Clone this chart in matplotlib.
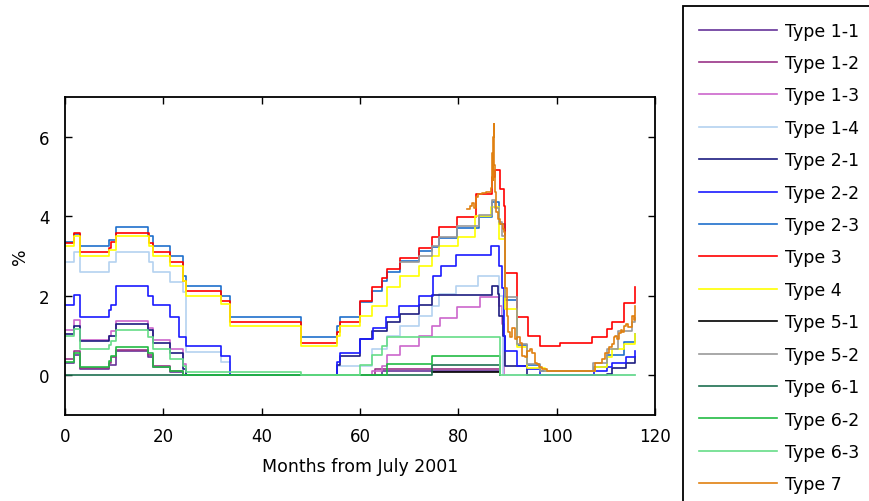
import matplotlib
matplotlib.use('Agg')
import matplotlib.pyplot as plt

# step series, months from July 2001 (change points) and percent levels
type1_1_x = [0, 1.9, 3.1, 8.9, 10.3, 16.9, 17.8, 21.3, 24.1, 64.4, 88.5]
type1_1_y = [0.3, 0.5, 0.15, 0.25, 0.6, 0.45, 0.2, 0.08, 0, 0.11, 0]

type1_2_x = [0, 1.9, 3.1, 8.9, 9.4, 10.3, 16.9, 17.8, 21.3, 24.1, 63.0, 88.5]
type1_2_y = [0.4, 0.62, 0.17, 0.3, 0.45, 0.64, 0.5, 0.24, 0.11, 0, 0.15, 0]

type1_3_x = [0, 1.9, 3.1, 8.9, 9.4, 10.3, 16.9, 17.8, 21.3, 24.1, 24.7, 62.4, 64.4, 65.4,
             68.1, 71.9, 74.6, 76.2, 79.7, 84.4, 88.3, 88.8, 89.2]
type1_3_y = [1.14, 1.39, 0.89, 1.0, 1.12, 1.37, 1.2, 0.89, 0.66, 0.28, 0, 0.11, 0.24, 0.5,
             0.74, 0.99, 1.24, 1.45, 1.72, 1.98, 1.75, 1.3, 0]

type1_4_x = [0, 1.9, 3.1, 8.9, 10.3, 17.0, 17.8, 21.3, 24.1, 24.7, 31.7, 33.6, 55.4, 62.4,
             65.4, 68.1, 71.9, 74.6, 76.1, 79.6, 83.9, 88.3, 89.0, 116]
type1_4_y = [2.84, 3.09, 2.6, 2.84, 3.09, 2.84, 2.6, 2.35, 2.1, 0.59, 0.34, 0, 0.24, 0.66,
             0.99, 1.23, 1.48, 1.75, 2.04, 2.25, 2.5, 2.0, 0, 0]

type2_1_x = [0, 1.9, 3.1, 8.9, 10.3, 16.9, 17.8, 21.3, 24.1, 24.7, 55.4, 56, 60, 62.4,
             65.4, 68.1, 71.9, 74.6, 86.8, 88.0, 88.3, 89.0, 89.5, 94, 110.2, 111.2, 114, 116]
type2_1_y = [1.05, 1.25, 0.85, 1.0, 1.29, 1.14, 0.81, 0.57, 0.15, 0, 0.26, 0.49, 0.91, 1.12,
             1.33, 1.54, 1.76, 2.02, 2.25, 2.04, 1.5, 0.99, 0.24, 0, 0.04, 0.19, 0.3, 0.45]

type2_2_x = [0, 1.9, 3.1, 8.9, 9.4, 10.3, 16.9, 17.8, 21.3, 23.2, 24.7, 31.7, 33.6, 55.4,
             56, 60, 62.6, 65.3, 68, 71.9, 74.8, 76.4, 79.6, 86.7, 88.3, 88.9, 89.2, 89.5,
             92, 94, 96.6, 107.5, 110.3, 111.2, 114, 116]
type2_2_y = [1.77, 2.02, 1.47, 1.64, 1.77, 2.25, 2.0, 1.76, 1.47, 0.97, 0.74, 0.49, 0, 0.34,
             0.57, 0.91, 1.18, 1.47, 1.75, 2.0, 2.5, 2.76, 3.02, 3.24, 2.76, 2.2, 1.0, 0.61,
             0.24, 0.16, 0, 0.11, 0.2, 0.32, 0.47, 0.61]

type2_3_x = [0, 1.9, 3.1, 8.9, 10.3, 16.9, 17.8, 21.3, 24.1, 24.7, 31.7, 33.6, 48.1, 55.4,
             56, 60, 62.4, 64.4, 65.4, 68.1, 71.9, 74.6, 76.1, 79.7, 84.3, 86.8, 88.2, 89.5,
             92, 94, 96.6, 107.5, 110.2, 113.6, 116]
type2_3_y = [3.35, 3.55, 3.26, 3.39, 3.74, 3.51, 3.26, 3.01, 2.5, 2.25, 2.0, 1.47, 0.97, 1.23,
             1.47, 1.85, 2.13, 2.38, 2.6, 2.88, 3.12, 3.22, 3.45, 3.71, 3.98, 4.36, 3.8, 1.9,
             0.75, 0.25, 0.11, 0.2, 0.5, 0.84, 1.03]

type3_x = [0, 1.9, 3.1, 8.9, 9.4, 10.3, 17.1, 17.8, 21.3, 24.1, 24.7, 31.7, 33.6, 48.1,
           55.4, 56, 60, 62.4, 64.4, 65.4, 68.1, 71.9, 74.6, 76.1, 79.7, 83.6, 86.8, 87.5,
           88.5, 89.2, 89.5, 92, 94.1, 96.6, 100.6, 107.2, 110.2, 111.2, 113.6, 116]
type3_y = [3.33, 3.58, 3.09, 3.2, 3.35, 3.58, 3.33, 3.09, 2.84, 2.38, 2.13, 1.87, 1.33, 0.82,
           1.08, 1.33, 1.87, 2.21, 2.44, 2.67, 2.94, 3.2, 3.47, 3.72, 3.99, 4.56, 4.99, 5.17,
           4.69, 4.27, 2.56, 1.47, 0.99, 0.74, 0.82, 0.95, 1.16, 1.33, 1.81, 2.21]

type4_x = [0, 1.9, 3.1, 8.9, 10.3, 17.1, 17.8, 21.3, 24.1, 24.7, 31.7, 33.6, 48.1, 55.4,
           56, 60, 62.4, 65.4, 68.1, 71.9, 74.6, 76.1, 80, 83.4, 86.7, 88.3, 89.5, 92, 94,
           97.6, 107.8, 110.2, 111.2, 113.6, 116]
type4_y = [3.26, 3.51, 3.01, 3.15, 3.51, 3.26, 3.01, 2.76, 2.38, 2.0, 1.79, 1.23, 0.74, 0.99,
           1.23, 1.48, 1.75, 2.21, 2.5, 2.76, 3.01, 3.26, 3.49, 4.0, 4.23, 3.43, 1.66, 0.7, 0.19,
           0.11, 0.2, 0.45, 0.66, 0.78, 1.03]

type5_1_x = [74.6, 88.5]
type5_1_y = [0.07, 0]

type5_2_x = [68.1, 71.9, 74.6, 76.1, 79.7, 84.3, 86.8, 87.5, 88.2, 88.8, 89.5, 92, 94, 96.6,
             107.4, 110.2, 112.4, 115.3, 116]
type5_2_y = [2.85, 3.01, 3.26, 3.49, 3.75, 4.02, 4.42, 4.2, 3.85, 3.51, 1.97, 0.78, 0.28, 0.11,
             0.32, 0.66, 1.12, 1.33, 1.45]

type6_1_x = [0, 74.6, 88.5]
type6_1_y = [0, 0.25, 0]

type6_2_x = [0, 1.9, 3.1, 8.9, 9.4, 10.3, 16.9, 17.8, 21.3, 24.1, 65.4, 74.6, 88.5]
type6_2_y = [0.34, 0.57, 0.2, 0.35, 0.49, 0.7, 0.55, 0.22, 0.11, 0, 0.28, 0.49, 0]

type6_3_x = [0, 1.9, 3.1, 8.9, 9.4, 10.3, 16.9, 17.8, 21.3, 24.1, 24.7, 48.1, 60, 62.4,
             64.4, 65.4, 88.5, 116]
type6_3_y = [0.99, 1.16, 0.66, 0.75, 0.87, 1.14, 0.95, 0.66, 0.42, 0.24, 0.08, 0, 0.26, 0.5,
             0.74, 0.97, 0, 0]

type7_x = [81.7, 82.3, 82.8, 83.2, 83.6, 84.0, 84.8, 85.6, 86.3, 86.6,
           86.8, 87.0, 87.1, 87.2, 87.3, 87.5, 87.7, 88.0, 88.4, 89.0,
           89.3, 89.5, 89.8, 90.2, 90.6, 91.0, 91.5, 92.0, 92.5, 93.0,
           93.5, 94.0, 94.5, 95.0, 95.5, 96.0, 96.5, 97.0, 98.0, 107.8,
           108.5, 109.2, 109.9, 110.6, 111.2, 111.6, 111.9, 112.3, 112.6, 113.0,
           113.3, 113.7, 114.0, 114.6, 115.3, 115.8, 116.0]
type7_y = [4.18, 4.25, 4.33, 4.22, 4.49, 4.56, 4.58, 4.6, 4.62, 4.7,
           5.6, 4.9, 6.0, 6.33, 5.3, 4.6, 4.1, 3.93, 3.8, 3.68,
           3.6, 2.2, 1.5, 1.1, 0.95, 1.2, 0.9, 0.95, 0.8, 0.49,
           0.45, 0.6, 0.66, 0.55, 0.3, 0.28, 0.2, 0.15, 0.11, 0.32,
           0.3, 0.4, 0.55, 0.7, 0.78, 0.95, 1.0, 0.9, 1.07, 1.15,
           1.1, 1.24, 1.3, 1.22, 1.5, 1.4, 1.75]

series = [
    ('Type 1-1', type1_1_x, type1_1_y, '#663399'),
    ('Type 1-2', type1_2_x, type1_2_y, '#993388'),
    ('Type 1-3', type1_3_x, type1_3_y, '#cc66cc'),
    ('Type 1-4', type1_4_x, type1_4_y, '#b4d2f0'),
    ('Type 2-1', type2_1_x, type2_1_y, '#1c1c80'),
    ('Type 2-2', type2_2_x, type2_2_y, '#1a1aff'),
    ('Type 2-3', type2_3_x, type2_3_y, '#1f6fcc'),
    ('Type 3', type3_x, type3_y, '#ff0000'),
    ('Type 4', type4_x, type4_y, '#ffff00'),
    ('Type 5-1', type5_1_x, type5_1_y, '#000000'),
    ('Type 5-2', type5_2_x, type5_2_y, '#999999'),
    ('Type 6-1', type6_1_x, type6_1_y, '#1e7050'),
    ('Type 6-2', type6_2_x, type6_2_y, '#22bb44'),
    ('Type 6-3', type6_3_x, type6_3_y, '#66dd88'),
    ('Type 7', type7_x, type7_y, '#e08010'),
]

plt.rcParams['font.family'] = 'DejaVu Sans'

fig = plt.figure(figsize=(8.69, 5.02), dpi=100)
ax = fig.add_axes([65 / 869, 1 - 416 / 502, 590 / 869, 318 / 502])

for name, x, y, c in series:
    ax.step(x, y, where='post', color=c, lw=1.2, label=name)

ax.set_xlim(0, 120)
ax.set_ylim(-1, 7)
ax.set_xticks([0, 20, 40, 60, 80, 100, 120])
ax.set_yticks([0, 2, 4, 6])
ax.tick_params(direction='in', top=True, right=True, length=5, width=1,
               labelsize=12)
ax.tick_params(axis='x', pad=9)
ax.tick_params(axis='y', pad=11)
for s in ax.spines.values():
    s.set_linewidth(1.3)
ax.set_xlabel('Months from July 2001', fontsize=12.5, labelpad=8)
ax.set_ylabel('%', fontsize=12.5, labelpad=7)

leg = fig.legend(loc='upper left', bbox_to_anchor=(683 / 869, 1 - 7 / 502),
                 fontsize=12.5, frameon=True, fancybox=False, framealpha=1,
                 handlelength=4.5, handletextpad=0.5, labelspacing=0.83,
                 borderpad=0.9, borderaxespad=0)
leg.get_frame().set_edgecolor('black')
leg.get_frame().set_linewidth(1.3)

plt.savefig('out.png', dpi=100)
